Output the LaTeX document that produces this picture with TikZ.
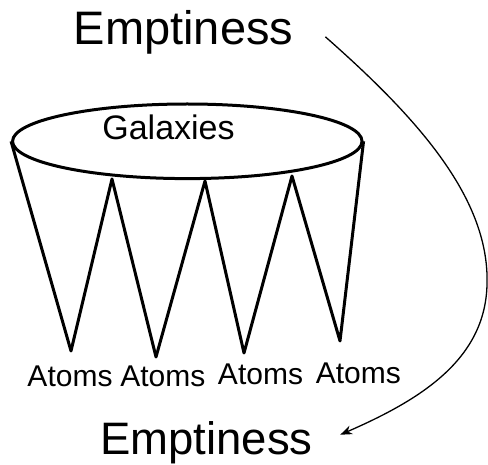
\documentclass[tikz,border=0pt]{standalone}
\usepackage{fontspec}
\setmainfont{Liberation Sans}
\usetikzlibrary{arrows.meta,shapes.geometric}

\begin{document}
\begin{tikzpicture}[
  x=1pt,y=-1pt,
  big/.style={inner sep=0pt,anchor=base,font=\fontsize{47}{50}\selectfont},
  lbl/.style={inner sep=0pt,anchor=base,font=\fontsize{30}{32}\selectfont},
  rim/.style={draw,ellipse,line width=3pt,inner sep=0pt,
    minimum width=349.5pt,minimum height=74.6pt},
  zig/.style={line width=3pt,line join=round},
  a/.style={-{Stealth[length=12pt,width=9pt]},line width=1.3pt}
]
\useasboundingbox (0,0) rectangle (488,465);

\node[big] (top) at (183.5,45) {Emptiness};
\node[big,font=\fontsize{45.5}{48}\selectfont] (bottom) at (206.4,455) {Emptiness};

\node[rim] (disk) at (187.3,141.3) {};
\node[inner sep=0pt,anchor=base,font=\fontsize{34}{36}\selectfont] (gal)
  at (168.5,140) {Galaxies};

\coordinate (p1) at (71,351);
\coordinate (q1) at (112,179);
\coordinate (p2) at (156,357);
\coordinate (q2) at (205,181);
\coordinate (p3) at (244,353);
\coordinate (q3) at (292,176);
\coordinate (p4) at (340,341);

\node[lbl] (atoms1) at (70,386.7) {Atoms};
\node[lbl] (atoms2) at (162.8,386.7) {Atoms};
\node[lbl] (atoms3) at (260.5,384.3) {Atoms};
\node[lbl] (atoms4) at (358.3,383.3) {Atoms};

\draw[zig] (disk.west) -- (p1) -- (q1) -- (p2) -- (q2) -- (p3) -- (q3)
  -- (p4) -- (disk.east);

\draw[a] ([shift={(32,4)}]top.east) .. controls (420,120) and (490,200) .. (487,285)
  .. controls (485,360) and (420,400) .. ([shift={(27.4,-8.5)}]bottom.east);
\end{tikzpicture}
\end{document}
